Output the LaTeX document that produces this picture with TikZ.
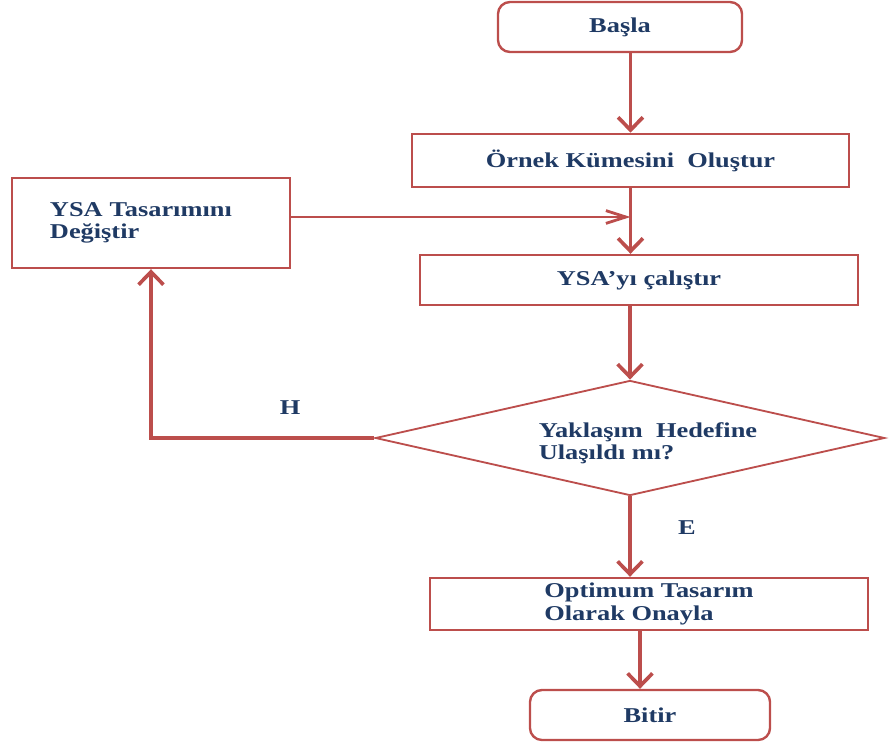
\documentclass[tikz,border=0pt]{standalone}
\usepackage{fontspec}
\setmainfont{Liberation Serif}[FakeStretch=1.25]
\usetikzlibrary{shapes.geometric,arrows.meta}
\definecolor{kenar}{RGB}{188,78,76}
\definecolor{yazi}{RGB}{31,58,100}
\begin{document}
\begin{tikzpicture}[x=0.025cm, y=-0.025cm]
      \tikzstyle{txt}=[text=yazi, font=\fontsize{15}{16}\selectfont\bfseries]
      \tikzstyle{kutu}=[draw=kenar, line width=1.7pt, fill=white, inner sep=0pt, txt]
      \tikzstyle{uc}=[rounded corners=0.3cm]
      \tikzstyle{arrow}=[draw=kenar, line width=2.6pt, -{Straight Barb[length=0.32cm, width=0.62cm, line width=2.6pt]}]
      \useasboundingbox (0, 0) rectangle (893, 744);
      \node[kutu, uc, minimum width=6.1cm, minimum height=1.25cm] (basla) at (620, 27) {Başla};
      \node[kutu, minimum width=10.93cm, minimum height=1.33cm] (ornek) at (630.5, 160.5) {Örnek Kümesini\ \ Oluştur};
      \node[kutu, minimum width=6.95cm, minimum height=2.25cm, text width=5.05cm, align=left] (degistir) at (151, 223) {YSA Tasarımını\\Değiştir};
      \node[kutu, minimum width=10.95cm, minimum height=1.25cm] (calistir) at (639, 280) {YSA’yı çalıştır};
      \node[kutu, shape=diamond, line width=1.3pt, minimum width=12.73cm, minimum height=2.875cm] (karar) at (630, 438) {};
      \node[txt, align=left] (soru) at (648, 443) {Yaklaşım\ \ Hedefine\\Ulaşıldı mı?};
      \node[kutu, minimum width=10.95cm, minimum height=1.3cm, align=left] (onay) at (649, 604) {Optimum Tasarım\\Olarak Onayla};
      \node[kutu, uc, minimum width=6cm, minimum height=1.25cm] (bitir) at (650, 715) {Bitir};
      \node[txt] (h) at (290, 408) {H};
      \node[txt] (e) at (687, 528) {E};

      \draw[arrow] (basla.south -| ornek.south) to (ornek.north);
      \draw[arrow] (ornek.south) to (ornek.south |- calistir.north);
      \draw[arrow, line width=2pt, -{Straight Barb[length=0.5cm, width=0.32cm, line width=2pt]}]
        ([yshift=0.15cm]degistir.east) to ([yshift=0.15cm]degistir.east -| ornek.south);
      \draw[arrow] (calistir.south -| karar.north) to (karar.north);
      \draw[arrow] (karar.west) -| (degistir.south);
      \draw[arrow] (karar.south) to (karar.south |- onay.north);
      \draw[arrow] ([xshift=0.25cm]onay.south -| karar.south) to ([xshift=0.25cm]karar.south |- bitir.north);
    \end{tikzpicture}
\end{document}
